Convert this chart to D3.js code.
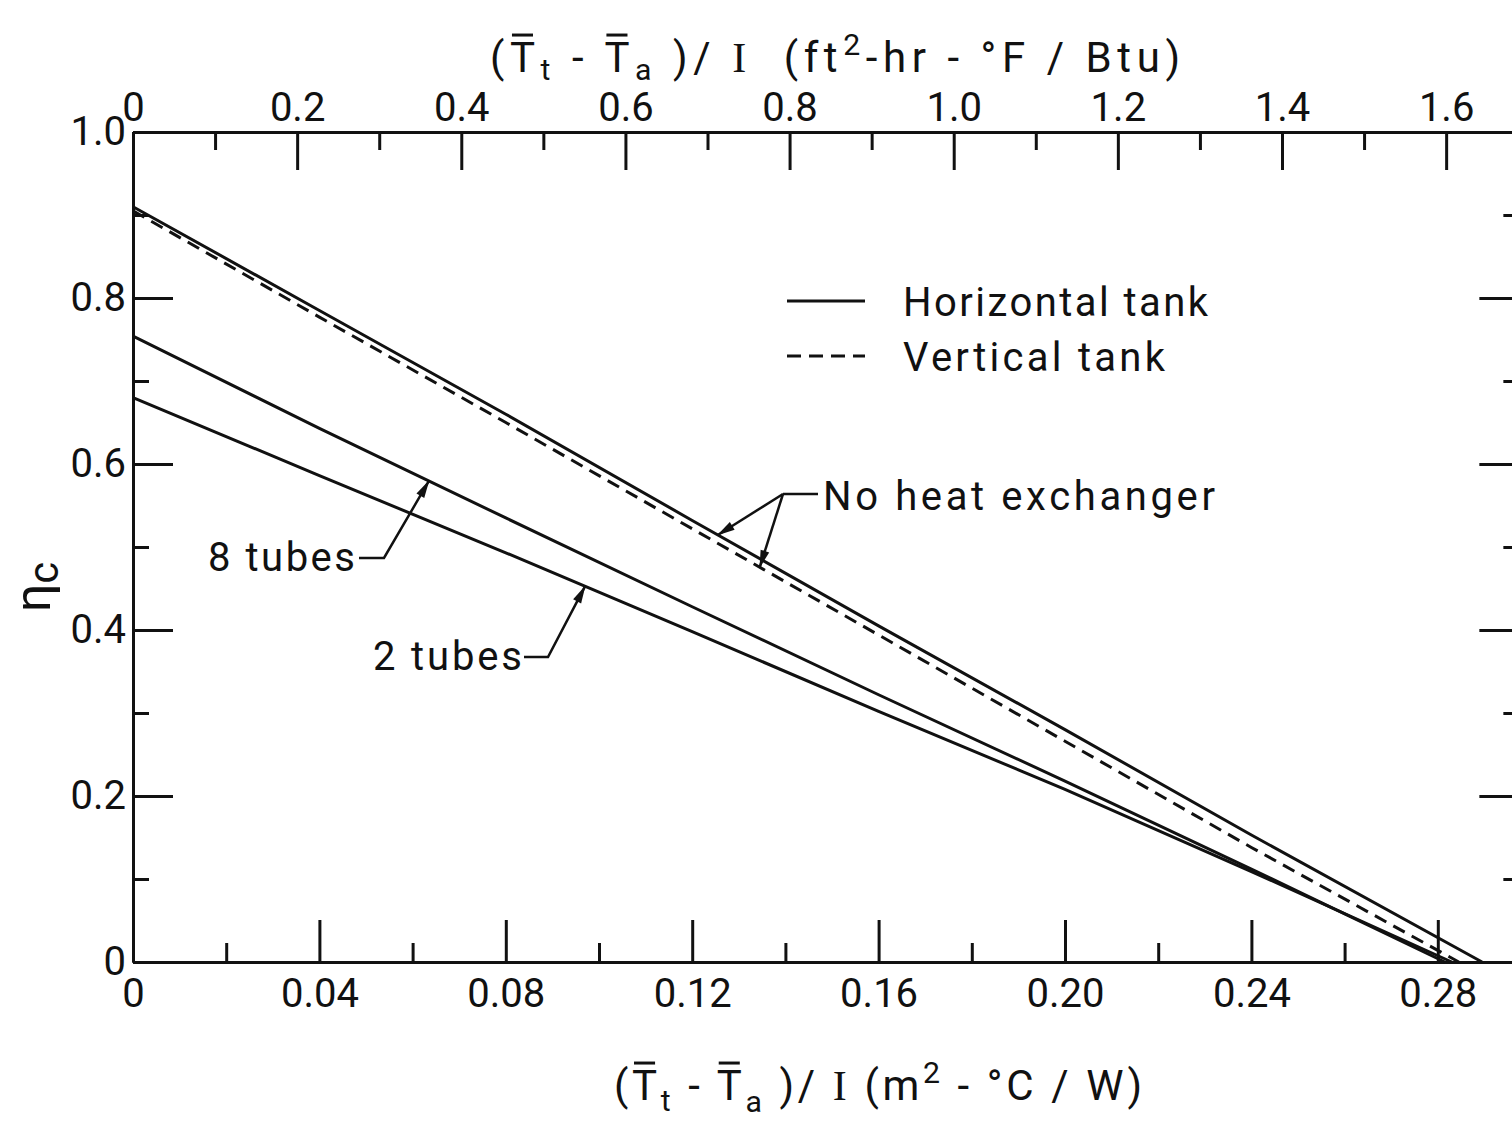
<!DOCTYPE html>
<html><head><meta charset="utf-8">
<script src="https://cdn.jsdelivr.net/npm/d3@7"></script>
<style>
body{margin:0;background:#fff;}
svg{display:block;}
text{font-family:Roboto,"DejaVu Sans",sans-serif;fill:#111;}
</style>
</head><body>
<svg id="chart" width="1512" height="1126"></svg>
<script>
// ---- data (x in m^2-°C/W, eta = collector efficiency) ----
const xMajorTicks = [0, 0.04, 0.08, 0.12, 0.16, 0.20, 0.24, 0.28];
const xMajorLabels = ["0", "0.04", "0.08", "0.12", "0.16", "0.20", "0.24", "0.28"];
const xMinorTicks = [0.02, 0.06, 0.10, 0.14, 0.18, 0.22, 0.26];
const yMajorTicks = [0, 0.2, 0.4, 0.6, 0.8, 1.0];
const yMajorLabels = ["0", "0.2", "0.4", "0.6", "0.8", "1.0"];
const yMinorTicks = [0.1, 0.3, 0.5, 0.7, 0.9];
const topMajorTicks = [0, 0.2, 0.4, 0.6, 0.8, 1.0, 1.2, 1.4, 1.6];
const topMajorLabels = ["0", "0.2", "0.4", "0.6", "0.8", "1.0", "1.2", "1.4", "1.6"];
const topMinorTicks = [0.1, 0.3, 0.5, 0.7, 0.9, 1.1, 1.3, 1.5];
const FT2_PER_M2 = 5.678; // ft2-hr-°F/Btu per m2-°C/W

const xNoHXHoriz = [0, 0.04, 0.08, 0.12, 0.16, 0.20, 0.24, 0.2895];
const etaNoHXHoriz = [0.910, 0.785, 0.660, 0.532, 0.405, 0.280, 0.153, 0];
const xNoHXVert = [0, 0.04, 0.08, 0.12, 0.16, 0.20, 0.24, 0.2845];
const etaNoHXVert = [0.905, 0.777, 0.650, 0.522, 0.394, 0.266, 0.138, 0];
const x8Tubes = [0, 0.04, 0.08, 0.12, 0.16, 0.20, 0.24, 0.2815];
const eta8Tubes = [0.754, 0.643, 0.535, 0.428, 0.322, 0.218, 0.112, 0];
const x2Tubes = [0, 0.04, 0.08, 0.12, 0.16, 0.20, 0.24, 0.283];
const eta2Tubes = [0.680, 0.586, 0.493, 0.398, 0.302, 0.208, 0.109, 0];

const legendNames = ["Horizontal tank", "Vertical tank"];

// ---- layout ----
const svg = d3.select("#chart");
const X0 = 133, Y0 = 962, Y1 = 132;
const xMax = 0.2975;
const x = d3.scaleLinear().domain([0, xMax]).range([X0, X0 + xMax * 4660]);
const xTop = d3.scaleLinear().domain([0, xMax * FT2_PER_M2]).range(x.range());
const y = d3.scaleLinear().domain([0, 1]).range([Y0, Y1]);
const XR = x(xMax);

const defs = svg.append("defs");
defs.append("marker").attr("id", "arr").attr("viewBox", "-18 -6 20 12")
  .attr("refX", 0).attr("refY", 0).attr("markerWidth", 20).attr("markerHeight", 12)
  .attr("markerUnits", "userSpaceOnUse").attr("orient", "auto")
  .append("path").attr("d", "M1,0 L-17,-4.5 L-17,4.5 Z").attr("fill", "#111");

function styleAxis(g) {
  g.selectAll(".domain").attr("stroke", "#111").attr("stroke-width", 3);
  g.selectAll(".tick line").attr("stroke", "#111").attr("stroke-width", 3);
  g.selectAll(".tick text").attr("font-size", 40).attr("font-family", "Roboto, sans-serif").attr("fill", "#111");
}

// bottom
svg.append("g").attr("transform", `translate(0,${Y0})`)
  .call(d3.axisBottom(x).tickValues(xMajorTicks).tickFormat((d, i) => xMajorLabels[i])
    .tickSizeInner(-42).tickSizeOuter(0).tickPadding(17)).call(styleAxis);
svg.append("g").attr("transform", `translate(0,${Y0})`)
  .call(d3.axisBottom(x).tickValues(xMinorTicks).tickFormat("").tickSizeInner(-19).tickSizeOuter(0)).call(styleAxis);
// top
svg.append("g").attr("transform", `translate(0,${Y1})`)
  .call(d3.axisTop(xTop).tickValues(topMajorTicks).tickFormat((d, i) => topMajorLabels[i])
    .tickSizeInner(-38).tickSizeOuter(0).tickPadding(11)).call(styleAxis);
svg.append("g").attr("transform", `translate(0,${Y1})`)
  .call(d3.axisTop(xTop).tickValues(topMinorTicks).tickFormat("").tickSizeInner(-18).tickSizeOuter(0)).call(styleAxis);
// left
svg.append("g").attr("transform", `translate(${X0},0)`)
  .call(d3.axisLeft(y).tickValues(yMajorTicks).tickFormat((d, i) => yMajorLabels[i])
    .tickSizeInner(-40).tickSizeOuter(0).tickPadding(7)).call(styleAxis);
svg.append("g").attr("transform", `translate(${X0},0)`)
  .call(d3.axisLeft(y).tickValues(yMinorTicks).tickFormat("").tickSizeInner(-16).tickSizeOuter(0)).call(styleAxis);
// right
svg.append("g").attr("transform", `translate(${XR},0)`)
  .call(d3.axisRight(y).tickValues(yMajorTicks.slice(1, 5)).tickFormat("").tickSizeInner(-40).tickSizeOuter(0)).call(styleAxis);
svg.append("g").attr("transform", `translate(${XR},0)`)
  .call(d3.axisRight(y).tickValues(yMinorTicks).tickFormat("").tickSizeInner(-16).tickSizeOuter(0)).call(styleAxis);

// ---- curves ----
const line = d3.line().x(d => x(d[0])).y(d => y(d[1]));
const series = [
  {xs: xNoHXHoriz, ys: etaNoHXHoriz, dash: null},
  {xs: xNoHXVert, ys: etaNoHXVert, dash: "13,8"},
  {xs: x8Tubes, ys: eta8Tubes, dash: null},
  {xs: x2Tubes, ys: eta2Tubes, dash: null}
];
series.forEach(s => {
  svg.append("path").datum(s.xs.map((v, i) => [v, s.ys[i]]))
    .attr("d", line).attr("fill", "none").attr("stroke", "#111")
    .attr("stroke-width", 3).attr("stroke-dasharray", s.dash);
});

function etaAt(xs, ys, xv) {
  for (let i = 0; i < xs.length - 1; i++) {
    if (xv >= xs[i] && xv <= xs[i + 1]) {
      const t = (xv - xs[i]) / (xs[i + 1] - xs[i]);
      return ys[i] + t * (ys[i + 1] - ys[i]);
    }
  }
  return 0;
}

// ---- legend ----
[[301, null], [356, "14,8"]].forEach(([ly, dash], i) => {
  svg.append("line").attr("x1", 787).attr("x2", 865).attr("y1", ly).attr("y2", ly)
    .attr("stroke", "#111").attr("stroke-width", 3).attr("stroke-dasharray", dash);
  svg.append("text").attr("x", 903).attr("y", ly + 15).attr("font-size", 40)
    .attr("textLength", i === 0 ? 305 : 262).attr("lengthAdjust", "spacing")
    .text(legendNames[i]);
});

// ---- annotations ----
function label(txt, lx, ly, len) {
  svg.append("text").attr("x", lx).attr("y", ly).attr("font-size", 40)
    .attr("textLength", len).attr("lengthAdjust", "spacing").text(txt);
}
label("8 tubes", 208, 571, 147);
label("2 tubes", 373, 670, 149);
label("No heat exchanger", 823, 510, 392);

function leader(points, tip) {
  svg.append("path").attr("d", d3.line()([...points, tip])).attr("fill", "none")
    .attr("stroke", "#111").attr("stroke-width", 2.5).attr("marker-end", "url(#arr)");
}
const t8 = [x(0.0635), y(etaAt(x8Tubes, eta8Tubes, 0.0635))];
leader([[359, 558], [384, 558]], t8);
const t2 = [x(0.097), y(etaAt(x2Tubes, eta2Tubes, 0.097))];
leader([[524, 657], [548, 657]], t2);
const tH = [x(0.1255), y(etaAt(xNoHXHoriz, etaNoHXHoriz, 0.1255))];
const tV = [x(0.1345), y(etaAt(xNoHXVert, etaNoHXVert, 0.1345))];
svg.append("line").attr("x1", 783).attr("x2", 818).attr("y1", 494).attr("y2", 494)
  .attr("stroke", "#111").attr("stroke-width", 2.5);
leader([[783, 494]], tH);
leader([[783, 494]], tV);

// ---- axis titles: one text, tspans for sub/superscripts, fitted to a length ----
function title(parts, x0, len, baseY, size) {
  const t = svg.append("text").attr("x", x0).attr("y", baseY).attr("font-size", size)
    .attr("textLength", len).attr("lengthAdjust", "spacing").style("white-space", "pre");
  let cur = 0, idx = 0;
  const bars = [];
  parts.forEach(p => {
    const target = p.sub ? p.sub : (p.sup ? -p.sup : 0);
    const ts = t.append("tspan").attr("dy", target - cur).text(p.t);
    cur = target;
    if (p.sub || p.sup) ts.attr("font-size", size * 0.72);
    if (p.serif) ts.attr("font-family", "'Liberation Serif', serif");
    if (p.bar) bars.push(idx + p.bar - 1);
    idx += p.t.length;
  });
  bars.forEach(ci => {
    const r = t.node().getExtentOfChar(ci);
    svg.append("line").attr("x1", r.x + 2).attr("x2", r.x + r.width - 2)
      .attr("y1", baseY - size * 0.88).attr("y2", baseY - size * 0.88)
      .attr("stroke", "#111").attr("stroke-width", 3);
  });
}
title([
  {t: "(T", bar: 2}, {t: "t", sub: 8}, {t: " - T", bar: 4}, {t: "a", sub: 8},
  {t: " )/ "}, {t: "I", serif: true}, {t: "  (ft"}, {t: "2", sup: 17},
  {t: "-hr - °F / Btu)"}
], 490, 690, 72, 42);
title([
  {t: "(T", bar: 2}, {t: "t", sub: 11}, {t: " - T", bar: 4}, {t: "a", sub: 12},
  {t: " )/ "}, {t: "I", serif: true}, {t: " (m"}, {t: "2", sup: 17},
  {t: " - °C / W)"}
], 614, 528, 1100, 42);

// y title
const yt = svg.append("text").attr("transform", "translate(50,612) rotate(-90)").attr("font-size", 50);
yt.append("tspan").text("η");
yt.append("tspan").attr("dy", 8).attr("font-size", 42).text("c");
</script>
</body></html>
